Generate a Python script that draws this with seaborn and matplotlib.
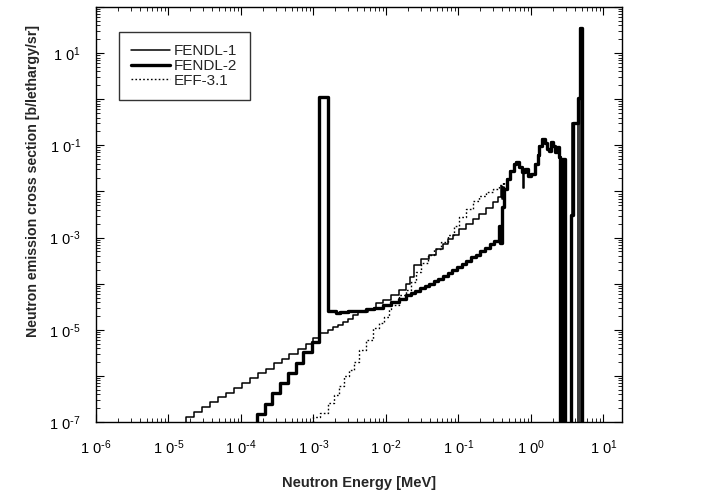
import numpy as np
import pandas as pd
import matplotlib
matplotlib.use("Agg")
import matplotlib.pyplot as plt
import matplotlib.ticker as mticker
import seaborn as sns

# ---------------- data (log10 of energy bin edges in MeV, log10 of values) -------------
ZERO = -12.0  # empty bin (drawn down to the axis)

# FENDL-1 (thin solid)
f1_edges = [-4.780, -4.763, -4.648, -4.543, -4.433, -4.318, -4.208, -4.102, -3.992, -3.882,
            -3.771, -3.661, -3.551, -3.441, -3.331, -3.220, -3.110, -3.009, -2.908, -2.803,
            -2.734, -2.665, -2.596, -2.527, -2.459, -2.390, -2.252, -2.137, -2.045, -1.930,
            -1.815, -1.723, -1.668, -1.609, -1.517, -1.402, -1.310, -1.218, -1.149, -1.080,
            -0.989, -0.897, -0.805, -0.713, -0.622, -0.530, -0.461, -0.415, -0.400, -0.383,
            -0.370, -0.330, -0.290, -0.240, -0.200, -0.160, -0.130, -0.108, -0.095, -0.085,
            -0.040, 0.005, 0.050, 0.090, 0.113, 0.150, 0.187, 0.215, 0.252, 0.278,
            0.306, 0.333, 0.352, 0.380, 0.402, 0.560, 0.650, 0.673, 0.710, 1.250]
f1_vals = [ZERO, -6.90, -6.79, -6.67, -6.57, -6.46, -6.37, -6.26, -6.16, -6.05,
           -5.94, -5.85, -5.73, -5.63, -5.52, -5.41, -5.31, -5.18, -5.07, -5.00,
           -4.95, -4.90, -4.84, -4.77, -4.68, -4.61, -4.54, -4.43, -4.36, -4.25,
           -4.14, -4.00, -3.85, -3.60, -3.46, -3.37, -3.24, -3.13, -3.04, -2.95,
           -2.81, -2.70, -2.59, -2.48, -2.36, -2.23, -2.12, -1.88, -2.16, -1.90,
           -1.94, -1.73, -1.55, -1.40, -1.37, -1.48, -1.58, -1.93, -1.58, -1.51,
           -1.66, -1.62, -1.40, -1.22, -1.01, -0.86, -0.94, -1.08, -1.12, -0.92,
           -1.01, -1.15, -1.04, -1.26, ZERO, -0.52, ZERO, 1.55, ZERO]

# FENDL-2 (thick solid)
f2_edges = [-3.800, -3.781, -3.675, -3.569, -3.464, -3.354, -3.239, -3.138, -3.023, -2.927,
            -2.803, -2.688, -2.633, -2.527, -2.412, -2.275, -2.160, -2.045, -1.930, -1.815,
            -1.724, -1.660, -1.596, -1.532, -1.468, -1.404, -1.340, -1.276, -1.212, -1.148,
            -1.084, -1.020, -0.956, -0.892, -0.828, -0.764, -0.700, -0.636, -0.572, -0.508,
            -0.447, -0.425, -0.405, -0.370, -0.330, -0.290, -0.240, -0.200, -0.160, -0.130,
            -0.085, -0.040, 0.005, 0.050, 0.090, 0.113, 0.150, 0.187, 0.215, 0.252,
            0.278, 0.306, 0.333, 0.352, 0.380, 0.402, 0.434, 0.471, 0.549, 0.581,
            0.650, 0.673, 0.710, 1.250]
f2_vals = [ZERO, -6.82, -6.60, -6.38, -6.16, -5.94, -5.72, -5.49, -5.26, 0.04,
           -4.59, -4.63, -4.62, -4.60, -4.59, -4.56, -4.52, -4.46, -4.40, -4.33,
           -4.25, -4.20, -4.15, -4.10, -4.05, -4.00, -3.95, -3.89, -3.83, -3.77,
           -3.70, -3.64, -3.57, -3.50, -3.43, -3.37, -3.30, -3.23, -3.15, -3.07,
           -2.75, -3.12, -2.34, -1.94, -1.73, -1.55, -1.40, -1.37, -1.48, -1.58,
           -1.51, -1.66, -1.62, -1.40, -1.22, -1.01, -0.86, -0.94, -1.08, -1.12,
           -0.92, -1.01, -1.15, -1.04, -1.26, ZERO, -1.30, ZERO, -2.50, -0.52,
           0.02, 1.55, ZERO]

# EFF-3.1 (dotted)
e3_edges = [-3.030, -3.009, -2.917, -2.803, -2.711, -2.642, -2.573, -2.504, -2.435, -2.366,
            -2.275, -2.183, -2.091, -2.022, -1.953, -1.930, -1.815, -1.723, -1.657, -1.588,
            -1.517, -1.425, -1.333, -1.241, -1.149, -1.058, -0.989, -0.897, -0.805, -0.713,
            -0.622, -0.530, -0.438, -0.383, -0.370, -0.330, -0.290, -0.240, -0.200, -0.160,
            -0.130, -0.085, -0.040, 0.005, 0.050, 0.090, 0.113, 0.150, 0.187, 0.215,
            0.252, 0.278, 0.306, 0.333, 0.352, 0.380, 0.402, 0.450]
e3_vals = [ZERO, -6.90, -6.80, -6.59, -6.41, -6.23, -6.01, -5.87, -5.69, -5.44,
           -5.22, -4.97, -4.86, -4.72, -4.54, -4.46, -4.25, -4.14, -3.96, -3.74,
           -3.56, -3.38, -3.24, -3.10, -2.95, -2.74, -2.56, -2.38, -2.20, -2.09,
           -2.02, -1.94, -1.87, -1.80, -1.94, -1.73, -1.55, -1.40, -1.37, -1.48,
           -1.58, -1.51, -1.66, -1.62, -1.40, -1.22, -1.01, -0.86, -0.94, -1.08,
           -1.12, -0.92, -1.01, -1.15, -1.04, -1.26, ZERO]

series_names = ["FENDL-1", "FENDL-2", "EFF-3.1"]
x_tick_exponents = [-6, -5, -4, -3, -2, -1, 0, 1]
y_label_exponents = [1, -1, -3, -5, -7]

# ---------------- style ----------------
sns.set_theme(style="ticks")
plt.rcParams["font.family"] = ["Liberation Sans", "DejaVu Sans"]
plt.rcParams["mathtext.default"] = "regular"


def step_frame(edges, vals):
    e = 10.0 ** np.asarray(edges, float)
    v = 10.0 ** np.asarray(list(vals) + [vals[-1]], float)
    return pd.DataFrame({"E": e, "v": v})


fig = plt.figure(figsize=(7.09, 4.95), dpi=100)
ax = fig.add_axes([96 / 709, 73 / 495, 526 / 709, 415 / 495])

styles = [
    dict(linewidth=1.1, linestyle="-"),
    dict(linewidth=2.4, linestyle="-"),
    dict(linewidth=1.0, linestyle=(0, (1.2, 1.6))),
]
for name, (ed, va), st in zip(series_names,
                              [(f1_edges, f1_vals), (f2_edges, f2_vals), (e3_edges, e3_vals)],
                              styles):
    df = step_frame(ed, va)
    sns.lineplot(data=df, x="E", y="v", ax=ax, drawstyle="steps-post", estimator=None,
                 sort=False, color="black", label=name, **st)

ax.set_xscale("log")
ax.set_yscale("log")
ax.set_xlim(1e-6, 18)
ax.set_ylim(1e-7, 100)

ax.xaxis.set_major_locator(mticker.FixedLocator([10.0 ** k for k in x_tick_exponents]))
ax.xaxis.set_minor_locator(mticker.LogLocator(base=10, subs=np.arange(2, 10), numticks=30))
ax.yaxis.set_major_locator(mticker.LogLocator(base=10, numticks=30))
ax.yaxis.set_minor_locator(mticker.LogLocator(base=10, subs=np.arange(2, 10), numticks=30))


def pow_label(k):
    exp = ("\\text{-}%d" % (-k)) if k < 0 else ("%d" % k)
    return r"$\mathregular{1\;0^{%s}}$" % exp


def fmt_x(v, pos):
    return pow_label(int(round(np.log10(v))))


def fmt_y(v, pos):
    k = int(round(np.log10(v)))
    return pow_label(k) if k in y_label_exponents else ""


ax.xaxis.set_major_formatter(mticker.FuncFormatter(fmt_x))
ax.yaxis.set_major_formatter(mticker.FuncFormatter(fmt_y))
ax.xaxis.set_minor_formatter(mticker.NullFormatter())
ax.yaxis.set_minor_formatter(mticker.NullFormatter())

ax.tick_params(which="both", direction="in", top=True, right=True, colors="black",
               labelsize=10.5)
ax.tick_params(which="major", length=6, width=0.8)
ax.tick_params(which="minor", length=3, width=0.6)
ax.tick_params(axis="x", which="major", pad=12)
ax.tick_params(axis="y", which="major", pad=11)
for s in ax.spines.values():
    s.set_linewidth(1.0)
    s.set_color("black")

ax.set_xlabel("Neutron Energy [MeV]", fontsize=10.5, fontweight="bold")
ax.set_ylabel("Neutron emission cross section [b/lethargy/sr]", fontsize=10.2,
              fontweight="bold")
ax.xaxis.set_label_coords(0.5, (422 - 476) / 415)
ax.yaxis.set_label_coords((40 - 96) / 526, 0.58)

leg = ax.legend(loc="upper left", bbox_to_anchor=(0.044, 0.94), borderaxespad=0,
                fontsize=11, frameon=True, fancybox=False, handlelength=2.5,
                handletextpad=0.3, labelspacing=0.05, borderpad=0.8)
leg.get_frame().set_edgecolor("black")
leg.get_frame().set_linewidth(1.0)

fig.savefig("out.png", dpi=100)
